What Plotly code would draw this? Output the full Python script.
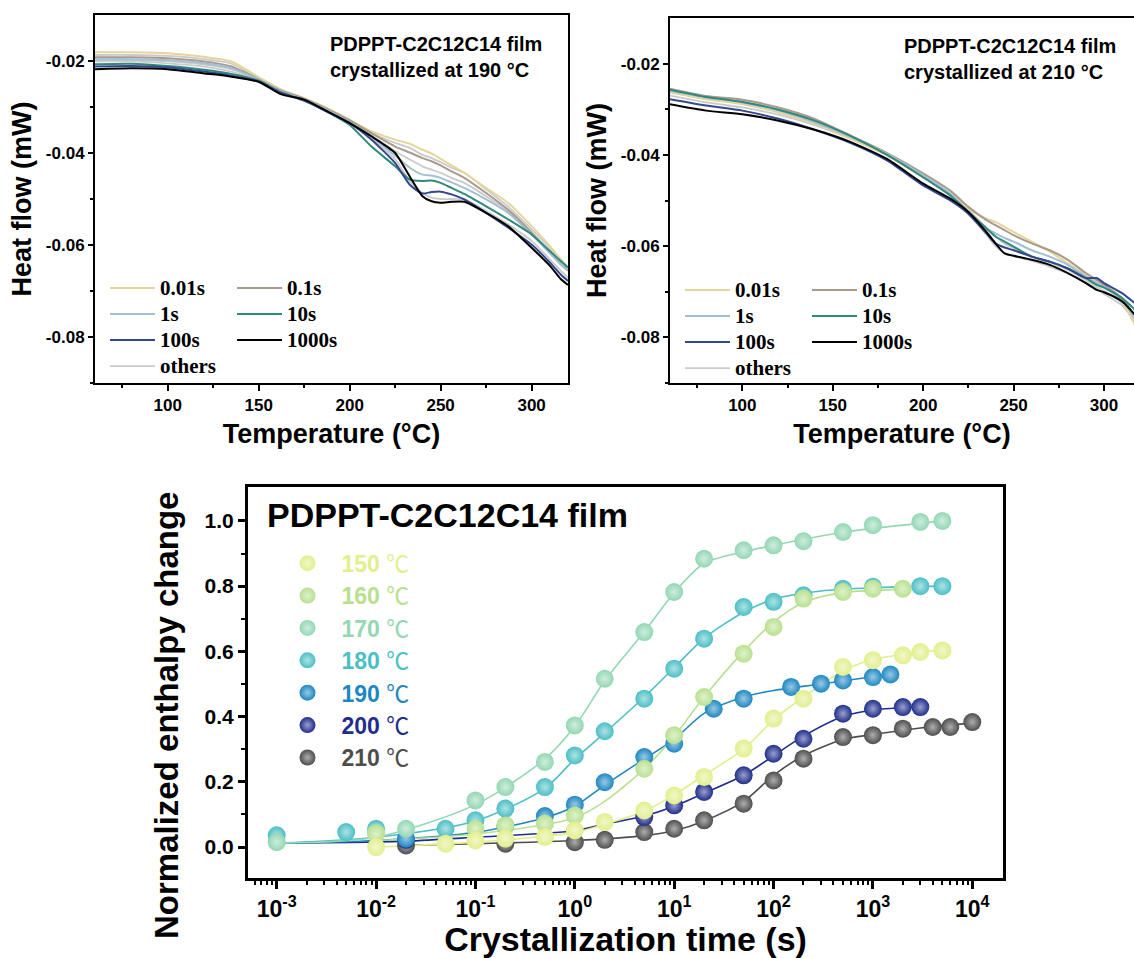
import plotly.graph_objects as go

W, H = 1134, 958
SANS = "Liberation Sans, Arial, sans-serif"
SERIF = "Liberation Serif, Times New Roman, serif"

# ---------------- Top-left panel: film crystallized at 190 °C ----------------
T190 = [60, 80, 100, 120, 135, 150, 162, 175, 188, 200, 212, 225, 233, 240, 245, 250, 256, 263, 275, 287, 300, 310, 316, 320]
hf190_0_01s = [-0.0181, -0.0181, -0.0183, -0.0191, -0.0201, -0.0235, -0.0261, -0.0281, -0.0303, -0.0328, -0.0353, -0.0371, -0.0380, -0.0393, -0.0401, -0.0413, -0.0427, -0.0443, -0.0476, -0.0508, -0.0559, -0.0602, -0.0631, -0.0649]
hf190_0_1s = [-0.0192, -0.0192, -0.0194, -0.0201, -0.0212, -0.0240, -0.0264, -0.0282, -0.0305, -0.0329, -0.0357, -0.0386, -0.0399, -0.0411, -0.0418, -0.0427, -0.0440, -0.0454, -0.0487, -0.0523, -0.0573, -0.0617, -0.0642, -0.0656]
hf190_1s = [-0.0196, -0.0196, -0.0198, -0.0205, -0.0216, -0.0241, -0.0266, -0.0284, -0.0308, -0.0334, -0.0364, -0.0406, -0.0432, -0.0447, -0.0449, -0.0454, -0.0464, -0.0476, -0.0501, -0.0530, -0.0577, -0.0617, -0.0642, -0.0654]
hf190_10s = [-0.0207, -0.0206, -0.0211, -0.0219, -0.0228, -0.0243, -0.0268, -0.0286, -0.0311, -0.0339, -0.0386, -0.0429, -0.0458, -0.0461, -0.0460, -0.0465, -0.0476, -0.0489, -0.0516, -0.0544, -0.0577, -0.0613, -0.0635, -0.0649]
hf190_100s = [-0.0212, -0.0211, -0.0214, -0.0223, -0.0232, -0.0245, -0.0269, -0.0286, -0.0311, -0.0335, -0.0371, -0.0422, -0.0469, -0.0488, -0.0485, -0.0484, -0.0490, -0.0501, -0.0530, -0.0562, -0.0599, -0.0638, -0.0664, -0.0678]
hf190_1000s = [-0.0218, -0.0216, -0.0218, -0.0227, -0.0234, -0.0245, -0.0272, -0.0284, -0.0310, -0.0335, -0.0364, -0.0400, -0.0451, -0.0494, -0.0505, -0.0508, -0.0506, -0.0506, -0.0530, -0.0559, -0.0606, -0.0645, -0.0674, -0.0687]
hf190_other_a = [-0.0187, -0.0187, -0.0189, -0.0196, -0.0206, -0.0238, -0.0263, -0.0283, -0.0305, -0.0329, -0.0357, -0.0378, -0.0389, -0.0404, -0.0411, -0.0420, -0.0432, -0.0443, -0.0479, -0.0516, -0.0566, -0.0606, -0.0635, -0.0653]
hf190_other_b = [-0.0201, -0.0201, -0.0205, -0.0212, -0.0223, -0.0243, -0.0269, -0.0284, -0.0310, -0.0335, -0.0368, -0.0414, -0.0461, -0.0487, -0.0497, -0.0500, -0.0500, -0.0501, -0.0526, -0.0555, -0.0591, -0.0631, -0.0656, -0.0671]
hf190_other_c = [-0.0198, -0.0198, -0.0201, -0.0208, -0.0218, -0.0241, -0.0266, -0.0284, -0.0308, -0.0334, -0.0362, -0.0396, -0.0414, -0.0429, -0.0436, -0.0443, -0.0454, -0.0465, -0.0494, -0.0526, -0.0573, -0.0613, -0.0638, -0.0654]

# ---------------- Top-right panel: film crystallized at 210 °C ----------------
T210 = [60, 80, 100, 120, 140, 160, 180, 200, 215, 225, 235, 240, 245, 250, 260, 270, 280, 290, 296, 300, 310, 317]
hf210_0_01s = [-0.0263, -0.0278, -0.0289, -0.0307, -0.0332, -0.0365, -0.0401, -0.0449, -0.0485, -0.0518, -0.0540, -0.0547, -0.0558, -0.0569, -0.0590, -0.0612, -0.0638, -0.0663, -0.0678, -0.0689, -0.0721, -0.0772]
hf210_0_1s = [-0.0255, -0.0271, -0.0279, -0.0296, -0.0321, -0.0358, -0.0396, -0.0441, -0.0478, -0.0514, -0.0543, -0.0554, -0.0565, -0.0576, -0.0594, -0.0609, -0.0630, -0.0659, -0.0674, -0.0685, -0.0714, -0.0754]
hf210_1s = [-0.0260, -0.0274, -0.0285, -0.0303, -0.0329, -0.0361, -0.0398, -0.0445, -0.0485, -0.0525, -0.0561, -0.0572, -0.0582, -0.0590, -0.0609, -0.0623, -0.0641, -0.0667, -0.0681, -0.0689, -0.0718, -0.0758]
hf210_10s = [-0.0257, -0.0273, -0.0284, -0.0301, -0.0325, -0.0359, -0.0400, -0.0449, -0.0489, -0.0525, -0.0561, -0.0579, -0.0590, -0.0601, -0.0623, -0.0634, -0.0649, -0.0670, -0.0685, -0.0691, -0.0714, -0.0739]
hf210_100s = [-0.0278, -0.0292, -0.0303, -0.0321, -0.0345, -0.0374, -0.0412, -0.0467, -0.0500, -0.0529, -0.0572, -0.0594, -0.0603, -0.0609, -0.0623, -0.0634, -0.0649, -0.0670, -0.0670, -0.0681, -0.0703, -0.0725]
hf210_1000s = [-0.0289, -0.0303, -0.0311, -0.0325, -0.0345, -0.0372, -0.0409, -0.0463, -0.0496, -0.0525, -0.0569, -0.0594, -0.0616, -0.0621, -0.0630, -0.0641, -0.0659, -0.0681, -0.0696, -0.0701, -0.0721, -0.0750]
hf210_other_a = [-0.0258, -0.0272, -0.0283, -0.0300, -0.0325, -0.0360, -0.0396, -0.0440, -0.0480, -0.0520, -0.0560, -0.0578, -0.0595, -0.0605, -0.0622, -0.0636, -0.0652, -0.0675, -0.0690, -0.0698, -0.0725, -0.0760]
hf210_other_b = [-0.0270, -0.0285, -0.0296, -0.0312, -0.0335, -0.0365, -0.0400, -0.0450, -0.0490, -0.0530, -0.0575, -0.0600, -0.0615, -0.0622, -0.0632, -0.0645, -0.0660, -0.0680, -0.0695, -0.0705, -0.0730, -0.0765]

dsc_labels = ["0.01s", "0.1s", "1s", "10s", "100s", "1000s"]
dsc_colors = ["#e4d59b", "#a99a8b", "#a3bfd4", "#2f8a7c", "#33478f", "#000000"]
other_color = "#cacaca"

# ---------------- Bottom panel: normalized enthalpy change ----------------
temps = ["150", "160", "170", "180", "190", "200", "210"]
ball_colors = ["#e2ef8c", "#b8e08f", "#93d7b3", "#4bbfc5", "#1e87c2", "#1f2e8c", "#4d4d4d"]

t150 = [0.01, 0.05, 0.1, 0.2, 0.5, 1, 2, 5, 10, 20, 50, 100, 200, 500, 1000, 2000, 3000, 5000]
y150 = [0.0, 0.01, 0.02, 0.026, 0.031, 0.051, 0.077, 0.112, 0.158, 0.215, 0.302, 0.394, 0.455, 0.552, 0.573, 0.588, 0.598, 0.603]
t160 = [0.01, 0.1, 0.2, 0.5, 1, 5, 10, 20, 50, 100, 200, 500, 1000, 2000]
y160 = [0.041, 0.056, 0.066, 0.072, 0.097, 0.240, 0.343, 0.460, 0.593, 0.675, 0.762, 0.782, 0.792, 0.792]
t170 = [0.001, 0.01, 0.02, 0.1, 0.2, 0.5, 1, 2, 5, 10, 20, 50, 100, 200, 500, 1000, 3000, 5000]
y170 = [0.015, 0.045, 0.056, 0.143, 0.184, 0.261, 0.373, 0.516, 0.659, 0.782, 0.884, 0.910, 0.925, 0.938, 0.966, 0.987, 0.997, 1.0]
t180 = [0.001, 0.005, 0.01, 0.05, 0.1, 0.2, 0.5, 1, 2, 5, 10, 20, 50, 100, 200, 500, 1000, 3000, 5000]
y180 = [0.036, 0.046, 0.056, 0.056, 0.082, 0.118, 0.184, 0.281, 0.355, 0.455, 0.547, 0.639, 0.736, 0.752, 0.772, 0.792, 0.798, 0.80, 0.80]
t190 = [0.02, 0.2, 0.5, 1, 2, 5, 10, 25, 50, 150, 300, 500, 1000, 1500]
y190 = [0.026, 0.065, 0.095, 0.13, 0.199, 0.276, 0.317, 0.424, 0.455, 0.491, 0.501, 0.511, 0.521, 0.529]
t200 = [0.02, 5, 10, 20, 50, 100, 200, 500, 1000, 2000, 3000]
y200 = [0.022, 0.092, 0.128, 0.169, 0.220, 0.286, 0.332, 0.409, 0.424, 0.429, 0.429]
t210 = [0.02, 0.2, 1, 2, 5, 10, 20, 50, 100, 200, 500, 1000, 2000, 4000, 6000, 10000]
y210 = [0.005, 0.01, 0.015, 0.022, 0.046, 0.056, 0.082, 0.133, 0.204, 0.271, 0.337, 0.343, 0.363, 0.368, 0.368, 0.383]

# fitted curves
fit150_t = [0.01, 0.1, 1, 2, 5, 10, 20, 50, 100, 200, 500, 1000, 5000]
fit150_y = [0.0, 0.015, 0.045, 0.07, 0.11, 0.16, 0.22, 0.30, 0.39, 0.46, 0.54, 0.575, 0.605]
fit160_t = [0.01, 0.1, 1, 2, 5, 10, 20, 50, 100, 200, 500, 2000]
fit160_y = [0.02, 0.04, 0.09, 0.14, 0.24, 0.34, 0.46, 0.60, 0.69, 0.75, 0.78, 0.79]
fit170_t = [0.001, 0.01, 0.1, 0.5, 1, 2, 5, 10, 20, 50, 100, 500, 5000]
fit170_y = [0.012, 0.03, 0.13, 0.27, 0.37, 0.51, 0.66, 0.78, 0.87, 0.905, 0.925, 0.965, 1.0]
fit180_t = [0.001, 0.01, 0.1, 0.5, 1, 2, 5, 10, 20, 50, 100, 300, 1000, 5000]
fit180_y = [0.012, 0.03, 0.08, 0.18, 0.27, 0.35, 0.46, 0.55, 0.64, 0.72, 0.76, 0.785, 0.795, 0.80]
fit190_t = [0.001, 0.01, 0.1, 0.5, 1, 2, 5, 10, 20, 50, 100, 300, 1500]
fit190_y = [0.012, 0.02, 0.045, 0.09, 0.125, 0.19, 0.27, 0.33, 0.41, 0.46, 0.48, 0.50, 0.53]
fit200_t = [0.001, 0.02, 0.1, 1, 2, 5, 10, 20, 50, 100, 200, 500, 1000, 3000]
fit200_y = [0.012, 0.018, 0.03, 0.05, 0.07, 0.095, 0.125, 0.165, 0.22, 0.28, 0.34, 0.40, 0.42, 0.43]
fit210_t = [0.02, 0.1, 1, 5, 10, 20, 50, 100, 200, 500, 1000, 3000, 10000]
fit210_y = [0.005, 0.01, 0.02, 0.035, 0.05, 0.08, 0.14, 0.22, 0.28, 0.33, 0.345, 0.365, 0.38]

x_tick_vals = [0.001, 0.01, 0.1, 1, 10, 100, 1000, 10000]
x_tick_text = ["10<sup>-3</sup>", "10<sup>-2</sup>", "10<sup>-1</sup>", "10<sup>0</sup>",
               "10<sup>1</sup>", "10<sup>2</sup>", "10<sup>3</sup>", "10<sup>4</sup>"]
hf_tick_vals = [-0.08, -0.06, -0.04, -0.02]
hf_tick_text = ["-0.08", "-0.06", "-0.04", "-0.02"]


def px(x):
    return x / W


def py(y):
    return 1 - y / H


def lighten(hexc, f):
    r, g, b = int(hexc[1:3], 16), int(hexc[3:5], 16), int(hexc[5:7], 16)
    r, g, b = [int(c + (255 - c) * f) for c in (r, g, b)]
    return "#%02x%02x%02x" % (r, g, b)


fig = go.Figure()


def leg_name(s):
    return '<span style="font-size:21px">%s</span>' % s


def add_dsc_panel(T, curves, others, xa, ya, legL, legR):
    for i, vals in enumerate(others):
        fig.add_trace(go.Scatter(
            x=T, y=vals, mode="lines", name=leg_name("others"),
            line=dict(color=other_color, width=1.8, shape="spline", smoothing=0.6),
            legend=legL, legendrank=4, showlegend=(i == 0),
            xaxis=xa, yaxis=ya, hoverinfo="skip"))
    for k, vals in enumerate(curves):
        left = k % 2 == 0
        fig.add_trace(go.Scatter(
            x=T, y=vals, mode="lines", name=leg_name(dsc_labels[k]),
            line=dict(color=dsc_colors[k], width=2, shape="spline", smoothing=0.6),
            legend=legL if left else legR, legendrank=k // 2 + 1,
            xaxis=xa, yaxis=ya))


add_dsc_panel(T190, [hf190_0_01s, hf190_0_1s, hf190_1s, hf190_10s, hf190_100s, hf190_1000s],
              [hf190_other_a, hf190_other_b, hf190_other_c], "x", "y", "legend2", "legend3")
add_dsc_panel(T210, [hf210_0_01s, hf210_0_1s, hf210_1s, hf210_10s, hf210_100s, hf210_1000s],
              [hf210_other_a, hf210_other_b], "x2", "y2", "legend4", "legend5")

series_t = [t150, t160, t170, t180, t190, t200, t210]
series_y = [y150, y160, y170, y180, y190, y200, y210]
fits_t = [fit150_t, fit160_t, fit170_t, fit180_t, fit190_t, fit200_t, fit210_t]
fits_y = [fit150_y, fit160_y, fit170_y, fit180_y, fit190_y, fit200_y, fit210_y]

for k in range(len(temps) - 1, -1, -1):
    col = ball_colors[k]
    fig.add_trace(go.Scatter(
        x=fits_t[k], y=fits_y[k], mode="lines", showlegend=False,
        line=dict(color=col, width=1.6, shape="spline", smoothing=0.8),
        legendgroup=temps[k], xaxis="x3", yaxis="y3", hoverinfo="skip"))
for k in range(len(temps) - 1, -1, -1):
    col = ball_colors[k]
    name = ('<span style="color:%s;font-size:23px">\u00a0<b>%s</b> '
            '<span style="font-weight:normal;font-family:Noto Sans CJK SC">℃</span></span>'
            % (col, temps[k]))
    fig.add_trace(go.Scatter(
        x=series_t[k], y=series_y[k], mode="markers", name=name,
        marker=dict(size=18, color=col, line=dict(width=0),
                    gradient=dict(type="radial", color=lighten(col, 0.55))),
        legend="legend", legendgroup=temps[k], legendrank=k + 1,
        xaxis="x3", yaxis="y3"))

tickfont_top = dict(family=SANS, size=17, color="black", weight="bold")
title_top = dict(family=SANS, size=27, color="black", weight="bold")


def top_x(domain, rng):
    return dict(domain=domain, range=rng, tickvals=[100, 150, 200, 250, 300],
                ticks="outside", ticklen=6, tickwidth=2, tickcolor="black",
                minor=dict(tickvals=[75, 125, 175, 225, 275], ticks="outside", ticklen=3, tickwidth=2, tickcolor="black"),
                showline=True, linewidth=2, linecolor="black", mirror=True,
                showgrid=False, zeroline=False, automargin=False, tickfont=tickfont_top,
                title=dict(text="Temperature (°C)", font=title_top, standoff=10))


def top_y(domain, anchor, mirror):
    return dict(domain=domain, range=[-0.09, -0.01], anchor=anchor,
                tickvals=hf_tick_vals, ticktext=hf_tick_text,
                ticks="outside", ticklen=5, tickwidth=2, tickcolor="black",
                minor=dict(tickvals=[-0.09, -0.07, -0.05, -0.03], ticks="outside", ticklen=3, tickwidth=2, tickcolor="black"),
                showline=True, linewidth=2, linecolor="black", mirror=mirror,
                showgrid=False, zeroline=False, automargin=False, tickfont=tickfont_top,
                title=dict(text="Heat flow (mW)", font=title_top, standoff=6))


x3minor = [m * 10 ** e for e in range(-4, 4) for m in range(2, 10)]

fig.update_layout(
    width=W, height=H, margin=dict(l=0, r=0, t=0, b=0),
    paper_bgcolor="white", plot_bgcolor="white",
    font=dict(family=SANS, color="black"),
    xaxis=top_x([px(95), px(568)], [60, 320]),
    yaxis=top_y([py(383), py(15)], "x", True),
    xaxis2=dict(top_x([px(670), 1.0], [60, 316.6]), anchor="y2"),
    yaxis2=top_y([py(383), py(18)], "x2", False),
    xaxis3=dict(domain=[px(248), px(1003)], type="log", range=[-3.289, 4.309], anchor="y3",
                tickvals=x_tick_vals, ticktext=x_tick_text,
                ticks="outside", ticklen=8, tickwidth=2.5, tickcolor="black",
                minor=dict(tickvals=x3minor, ticks="outside", ticklen=4, tickwidth=1.5, tickcolor="black"),
                showline=True, linewidth=3, linecolor="black", mirror=True,
                showgrid=False, zeroline=False, automargin=False,
                tickfont=dict(family=SANS, size=23, color="black", weight="bold"),
                title=dict(text="Crystallization time (s)", standoff=4,
                           font=dict(family=SANS, size=34, color="black", weight="bold"))),
    yaxis3=dict(domain=[py(878), py(487)], range=[-0.095, 1.104], anchor="x3",
                tickvals=[0.0, 0.2, 0.4, 0.6, 0.8, 1.0], ticktext=["0.0", "0.2", "0.4", "0.6", "0.8", "1.0"],
                ticks="outside", ticklen=7, tickwidth=2.5, tickcolor="black",
                minor=dict(tickvals=[-0.1, 0.1, 0.3, 0.5, 0.7, 0.9], ticks="outside", ticklen=4, tickwidth=2, tickcolor="black"),
                showline=True, linewidth=3, linecolor="black", mirror=True,
                showgrid=False, zeroline=False, automargin=False,
                tickfont=dict(family=SANS, size=21, color="black", weight="bold")),
    legend=dict(x=px(280), y=py(542), xanchor="left", yanchor="top", bgcolor="rgba(0,0,0,0)",
                font=dict(family=SANS, size=22.6, color="black"), itemwidth=45,
                tracegroupgap=0, traceorder="grouped", itemclick=False),
)

leg_common = dict(xanchor="left", yanchor="top", bgcolor="rgba(0,0,0,0)", borderwidth=0,
                  font=dict(family=SERIF, size=17.7, color="black", weight="bold"),
                  itemwidth=45, tracegroupgap=0, traceorder="normal", itemclick=False)
fig.update_layout(
    legend2=dict(leg_common, x=px(105), y=py(270)),
    legend3=dict(leg_common, x=px(232), y=py(270)),
    legend4=dict(leg_common, x=px(680), y=py(272)),
    legend5=dict(leg_common, x=px(807), y=py(272)),
)

ann_font = dict(family=SANS, size=20, color="black", weight="bold")
fig.add_annotation(x=px(328), y=py(31), xref="paper", yref="paper", xanchor="left", yanchor="top",
                   align="left", showarrow=False, font=ann_font,
                   text="PDPPT-C2C12C14 film<br>crystallized at 190 °C")
fig.add_annotation(x=px(902), y=py(33), xref="paper", yref="paper", xanchor="left", yanchor="top",
                   align="left", showarrow=False, font=ann_font,
                   text="PDPPT-C2C12C14 film<br>crystallized at 210 °C")
fig.add_annotation(x=px(265), y=py(515), xref="paper", yref="paper", xanchor="left", yanchor="middle",
                   showarrow=False, font=dict(family=SANS, size=34, color="black", weight="bold"),
                   text="PDPPT-C2C12C14 film")
fig.add_annotation(x=px(166), y=py(716), xref="paper", yref="paper", xanchor="center", yanchor="middle",
                   textangle=-90, showarrow=False,
                   font=dict(family=SANS, size=33, color="black", weight="bold"),
                   text="Normalized enthalpy change")

fig.write_html("out.html")
